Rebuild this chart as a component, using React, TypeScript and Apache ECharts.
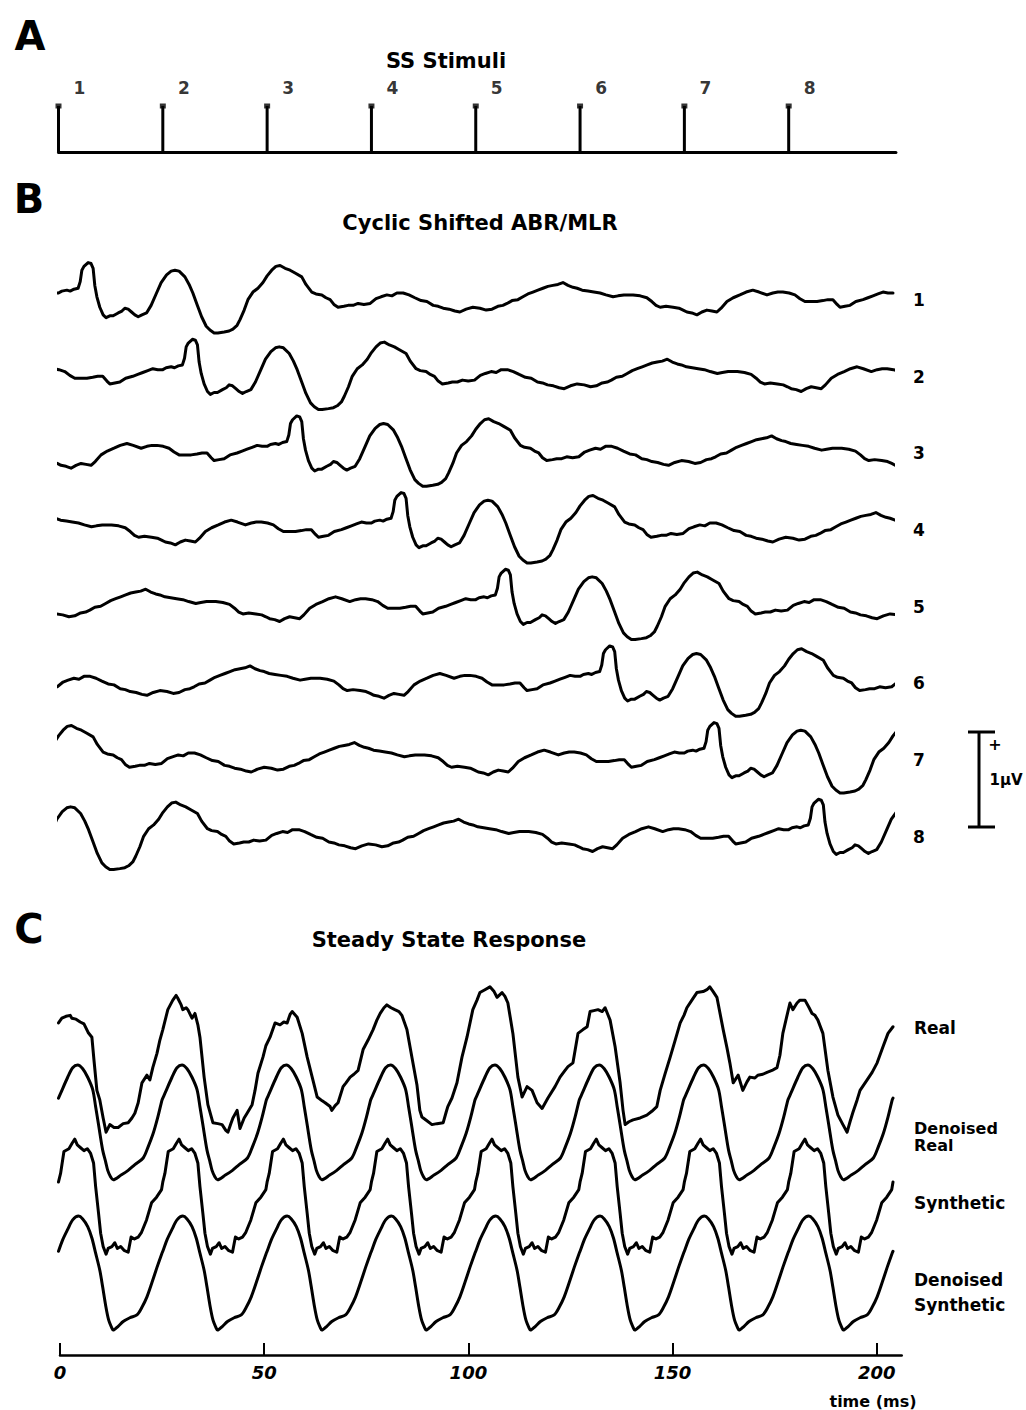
import React, { useEffect, useRef } from "react";
import * as echarts from "echarts";

// ---------- DATA ----------
// Panel A: stimulus onset times (ms) and their numbers
const stimulusTimes = [0, 25, 50, 75, 100, 125, 150, 175];
const stimulusLabels = ["1", "2", "3", "4", "5", "6", "7", "8"];

// Panel B: deconvolved ABR/MLR transient response (trace 1), [time ms, amplitude µV]
const abrMlrResponse = [
  [0, 0.0], [0.8, 0.02], [2.0, 0.03], [2.8, 0.02], [3.7, 0.04], [4.7, 0.05], [5.2, 0.12], [5.6, 0.24],
  [6.1, 0.28], [7.1, 0.32], [7.8, 0.31], [8.3, 0.26], [8.7, 0.08], [9.2, -0.04], [9.9, -0.15], [10.7, -0.23],
  [11.4, -0.26], [12.3, -0.24], [13.1, -0.24], [14.3, -0.21], [15.2, -0.19], [15.9, -0.16], [16.7, -0.17],
  [17.5, -0.2], [18.3, -0.23], [19.1, -0.25], [20.0, -0.23], [21.1, -0.21], [22.2, -0.13], [23.5, 0.0],
  [24.6, 0.11], [25.9, 0.19], [27.0, 0.23], [27.9, 0.24], [28.9, 0.23], [30.3, 0.17], [31.3, 0.09],
  [32.2, 0.0], [33.2, -0.12], [34.3, -0.25], [35.4, -0.35], [36.3, -0.39], [37.3, -0.42], [38.2, -0.42],
  [39.7, -0.41], [40.9, -0.4], [41.8, -0.38], [42.8, -0.34], [43.5, -0.28], [44.5, -0.18], [45.4, -0.07],
  [46.6, 0.01], [47.8, 0.05], [49.0, 0.11], [50.0, 0.18], [51.1, 0.24], [52.1, 0.28], [53.1, 0.29],
  [54.3, 0.26], [55.5, 0.24], [56.7, 0.21], [58.3, 0.17], [59.3, 0.09], [60.7, 0.01], [61.7, -0.01],
  [63.1, -0.02], [64.1, -0.05], [65.1, -0.07], [66.0, -0.12], [67.0, -0.15], [68.4, -0.14], [69.4, -0.13],
  [70.6, -0.13], [71.8, -0.11], [73.2, -0.12], [74.7, -0.11], [76.1, -0.06], [77.3, -0.04], [78.7, -0.02],
  [79.9, -0.03], [81.1, 0.0], [82.6, 0.0], [84.0, -0.02], [85.4, -0.05], [86.9, -0.08], [88.3, -0.09],
  [89.8, -0.13], [91.0, -0.14], [92.2, -0.16], [93.6, -0.17], [95.0, -0.19], [96.2, -0.2], [97.7, -0.17],
  [99.3, -0.15], [101.0, -0.16], [102.5, -0.18], [103.9, -0.17], [105.3, -0.14], [106.5, -0.13],
  [107.5, -0.11], [108.7, -0.08], [110.1, -0.07], [111.3, -0.04], [112.5, -0.01], [113.7, 0.01],
  [114.9, 0.03], [116.1, 0.05], [117.3, 0.07], [118.5, 0.08], [119.7, 0.09], [120.9, 0.11], [122.1, 0.08],
  [123.3, 0.06], [124.3, 0.05], [125.5, 0.03], [126.9, 0.02], [128.3, 0.01], [129.8, 0.0], [131.2, -0.02],
  [132.9, -0.04], [134.1, -0.03], [135.5, -0.02], [136.7, -0.02], [137.7, -0.02], [139.4, -0.03],
  [141.0, -0.05], [142.2, -0.09], [143.2, -0.13], [144.2, -0.15], [145.6, -0.14], [147.3, -0.15],
  [148.7, -0.16], [149.7, -0.18], [150.6, -0.2], [151.8, -0.21], [153.0, -0.23], [154.2, -0.2],
  [155.4, -0.18], [156.6, -0.19], [157.8, -0.2], [158.8, -0.16], [160.2, -0.09], [161.7, -0.05],
  [163.3, -0.02], [164.8, 0.01], [166.4, 0.03], [167.9, 0.01], [169.8, -0.02], [171.2, 0.0], [172.4, 0.01],
  [173.6, 0.01], [175.1, 0.0], [176.5, -0.02], [177.7, -0.06], [178.9, -0.09], [180.3, -0.09],
  [181.8, -0.09], [183.2, -0.08], [184.4, -0.07], [185.6, -0.07], [186.6, -0.12], [187.3, -0.15],
  [188.5, -0.14], [189.7, -0.13], [191.1, -0.09], [192.8, -0.07], [194.0, -0.05], [195.2, -0.03],
  [196.4, -0.01], [197.6, 0.01], [198.8, 0.0], [200, 0.0],
];
const cyclePeriod = 200; // ms
const shiftStep = 25; // ms between stimuli
const abrTraceLabels = ["1", "2", "3", "4", "5", "6", "7", "8"];

// Panel C: recorded steady state response, [time ms, amplitude]
const realResponse = [
  [0, 0.39], [0.8, 0.44], [1.8, 0.46], [2.8, 0.47], [3.2, 0.44], [4.2, 0.43], [5.2, 0.4], [6.1, 0.38],
  [7.1, 0.29], [8.0, 0.24], [8.5, 0.0], [9.2, -0.32], [9.9, -0.42], [10.7, -0.61], [11.4, -0.76],
  [12.3, -0.68], [13.3, -0.71], [14.3, -0.71], [15.5, -0.67], [16.7, -0.66], [17.6, -0.61], [18.3, -0.56],
  [19.1, -0.45], [20.0, -0.24], [21.2, -0.16], [21.9, -0.21], [22.6, -0.08], [23.6, 0.07], [24.3, 0.21],
  [25.0, 0.32], [26.2, 0.53], [27.4, 0.63], [28.2, 0.68], [28.6, 0.65], [29.4, 0.58], [29.8, 0.53],
  [30.6, 0.55], [31.0, 0.53], [32.0, 0.44], [32.7, 0.49], [33.4, 0.37], [33.9, 0.24], [34.9, -0.18],
  [35.8, -0.47], [37.0, -0.66], [38.2, -0.67], [39.2, -0.68], [40.1, -0.74], [40.6, -0.76], [41.3, -0.67],
  [41.8, -0.61], [42.8, -0.53], [43.5, -0.72], [44.5, -0.61], [45.2, -0.56], [46.4, -0.47], [47.1, -0.32],
  [47.8, -0.14], [49.0, 0.03], [49.7, 0.15], [50.7, 0.24], [51.9, 0.39], [53.1, 0.37], [54.0, 0.4],
  [54.8, 0.39], [55.5, 0.48], [56.0, 0.51], [57.2, 0.45], [58.4, 0.28], [59.6, 0.03], [60.8, -0.18],
  [62.0, -0.39], [63.2, -0.43], [63.9, -0.45], [65.1, -0.49], [65.5, -0.53], [66.3, -0.48], [67.0, -0.45],
  [68.2, -0.28], [68.9, -0.24], [69.9, -0.18], [70.8, -0.15], [71.8, -0.11], [73.0, 0.11], [74.2, 0.21],
  [75.4, 0.32], [76.3, 0.42], [77.1, 0.49], [78.0, 0.55], [78.7, 0.58], [79.7, 0.55], [80.6, 0.53],
  [81.6, 0.51], [82.3, 0.47], [83.5, 0.32], [84.7, 0.03], [85.9, -0.26], [86.6, -0.53], [87.1, -0.6],
  [88.3, -0.64], [89.5, -0.68], [90.7, -0.67], [92.2, -0.66], [92.9, -0.55], [93.3, -0.49], [94.3, -0.4],
  [95.5, -0.24], [96.7, 0.03], [97.9, 0.24], [99.3, 0.53], [100.3, 0.63], [101.0, 0.71], [102.2, 0.74],
  [103.4, 0.77], [104.4, 0.72], [105.1, 0.66], [106.3, 0.71], [107.0, 0.67], [107.7, 0.6], [108.9, 0.28],
  [110.1, -0.18], [111.1, -0.39], [112.3, -0.28], [113.5, -0.32], [114.7, -0.45], [115.9, -0.51],
  [117.3, -0.4], [119.0, -0.28], [120.2, -0.18], [121.4, -0.11], [122.1, -0.07], [123.3, -0.03],
  [124.5, 0.28], [125.7, 0.32], [126.7, 0.35], [127.4, 0.51], [128.3, 0.52], [129.3, 0.53], [130.3, 0.51],
  [131.0, 0.55], [132.2, 0.42], [133.4, 0.14], [134.6, -0.24], [135.3, -0.53], [135.8, -0.68],
  [136.7, -0.65], [137.7, -0.63], [139.4, -0.61], [141.0, -0.58], [142.2, -0.54], [143.4, -0.49],
  [144.2, -0.32], [145.4, -0.14], [146.6, 0.03], [147.8, 0.21], [149.0, 0.39], [149.9, 0.47], [150.6, 0.55],
  [151.8, 0.63], [153.0, 0.71], [154.5, 0.72], [155.4, 0.74], [156.1, 0.77], [156.9, 0.72], [157.8, 0.66],
  [159.3, 0.32], [160.2, 0.13], [160.9, -0.03], [161.7, -0.24], [162.9, -0.16], [164.0, -0.32],
  [165.0, -0.23], [165.7, -0.18], [166.9, -0.19], [167.6, -0.16], [168.8, -0.15], [169.8, -0.13],
  [171.0, -0.11], [172.2, -0.08], [172.9, 0.05], [173.6, 0.28], [174.6, 0.47], [175.3, 0.6], [176.0, 0.53],
  [177.0, 0.6], [177.7, 0.63], [178.9, 0.63], [179.9, 0.55], [180.6, 0.49], [181.3, 0.47], [182.0, 0.42],
  [183.2, 0.28], [184.4, -0.11], [185.6, -0.39], [186.8, -0.58], [188.0, -0.68], [189.0, -0.76],
  [189.7, -0.65], [190.4, -0.55], [191.4, -0.42], [192.1, -0.32], [193.8, -0.21], [195.0, -0.13],
  [196.2, -0.03], [197.6, 0.14], [198.8, 0.28], [200.0, 0.35],
];

// One 25 ms cycle of each periodic trace, [time in cycle ms, amplitude]
const denoisedRealCycle = [
  [0, 0.23], [0.5, 0.28], [2.2, 0.45], [3.4, 0.55], [4.6, 0.58], [5.8, 0.54], [7.0, 0.45], [8.2, 0.32],
  [8.9, 0.14], [9.6, -0.05], [10.6, -0.32], [11.3, -0.44], [11.8, -0.53], [12.5, -0.6], [13.1, -0.63],
  [15.0, -0.58], [16.7, -0.53], [18.3, -0.47], [20.3, -0.4], [21.5, -0.28], [22.7, -0.14], [23.8, 0.03],
  [24.8, 0.21],
];
const syntheticCycle = [
  [0, 0.19], [0.5, 0.28], [1.3, 0.51], [2.5, 0.54], [3.3, 0.6], [3.9, 0.64], [4.5, 0.58], [5.3, 0.55],
  [6.1, 0.52], [6.9, 0.54], [7.7, 0.49], [8.4, 0.39], [8.9, 0.14], [9.6, -0.14], [10.1, -0.35],
  [10.7, -0.49], [11.4, -0.57], [11.9, -0.51], [12.8, -0.49], [13.5, -0.45], [14.1, -0.51], [14.9, -0.49],
  [15.7, -0.53], [16.7, -0.55], [17.4, -0.39], [18.2, -0.41], [19.1, -0.39], [19.9, -0.34], [21.1, -0.21],
  [22.3, -0.03], [23.5, 0.03], [24.7, 0.11],
];
const denoisedSyntheticCycle = [
  [0, 0.25], [1.0, 0.37], [2.2, 0.48], [3.4, 0.58], [4.8, 0.62], [5.8, 0.59], [7.0, 0.51], [8.0, 0.39],
  [8.9, 0.23], [9.9, 0.05], [10.6, -0.13], [11.3, -0.32], [12.0, -0.47], [12.8, -0.56], [13.1, -0.58],
  [14.3, -0.54], [15.5, -0.49], [17.1, -0.45], [18.8, -0.42], [20.0, -0.34], [21.2, -0.23], [22.4, -0.08],
  [23.6, 0.08], [24.8, 0.23],
];
const steadyCycleLength = 25;
const steadyCycles = 8;
const steadyLabels = ["Real", "Denoised\nReal", "Synthetic", "Denoised\nSynthetic"];

const timeAxisTicks = { min: 0, interval: 50 };
const timeAxisName = "time (ms)";
const titles = ["SS Stimuli", "Cyclic Shifted ABR/MLR", "Steady State Response"];
const panelLetters = ["A", "B", "C"];

// ---------- LAYOUT ----------
const W = 1026;
const H = 1410;
const PX_PER_UV = 95;
const X_LEFT = 58.5;
const X_RIGHT = 893;
const FONT = '"DejaVu Sans", "Liberation Sans", Arial, sans-serif';
const LINE_W = 3;

const bZero = (k: number) => 293 + k * 76.667;
const cZeros = [1060, 1120, 1200, 1275];
const cHalf = [0.9, 0.8, 0.8, 0.8];

function cyclicShift(base: number[][], shift: number) {
  const pts: number[][] = [];
  for (const [t, v] of base) {
    pts.push([t + shift, v]);
    pts.push([t + shift - cyclePeriod, v]);
  }
  return pts.filter((p) => p[0] >= -4 && p[0] <= cyclePeriod + 4).sort((a, b) => a[0] - b[0]);
}

function repeatCycle(cycle: number[][]) {
  const out: number[][] = [];
  for (let c = 0; c < steadyCycles; c++) {
    for (const [t, v] of cycle) out.push([t + c * steadyCycleLength, v]);
  }
  out.push([steadyCycles * steadyCycleLength, cycle[0][1]]);
  return out;
}

function traceGrid(zeroY: number, half: number) {
  return {
    left: X_LEFT,
    width: X_RIGHT - X_LEFT,
    top: zeroY - half * PX_PER_UV,
    height: 2 * half * PX_PER_UV,
  };
}

function txt(text: string, x: number, y: number, size: number, align = "center", lineHeight?: number) {
  return {
    type: "text",
    x,
    y,
    silent: true,
    style: {
      text,
      fill: "#000",
      fontSize: size,
      fontWeight: "bold",
      fontFamily: FONT,
      lineHeight: lineHeight || Math.round(size * 1.2),
      textAlign: align,
      textVerticalAlign: "middle",
      align,
      verticalAlign: "middle",
    },
  };
}

function buildOption() {
  const grids: any[] = [];
  const xAxes: any[] = [];
  const yAxes: any[] = [];
  const series: any[] = [];

  const hiddenX = (gi: number) => ({ gridIndex: gi, type: "value", min: 0, max: cyclePeriod, show: false });
  const hiddenY = (gi: number, half: number) => ({ gridIndex: gi, type: "value", min: -half, max: half, show: false });

  // Grid 0: stimuli
  grids.push({ left: X_LEFT, width: (X_RIGHT - X_LEFT) * (200.7 / 200), top: 106, height: 46 });
  xAxes.push({
    gridIndex: 0,
    type: "value",
    min: 0,
    max: 200.7,
    axisLine: { show: true, onZero: false, lineStyle: { color: "#000", width: 3 } },
    axisTick: { show: false },
    axisLabel: { show: false },
    splitLine: { show: false },
  });
  yAxes.push({ gridIndex: 0, type: "value", min: 0, max: 1, show: false });
  series.push({
    type: "bar",
    xAxisIndex: 0,
    yAxisIndex: 0,
    barWidth: 3,
    itemStyle: { color: "#000" },
    data: stimulusTimes.map((t) => [t, 1]),
  });
  series.push({
    type: "scatter",
    xAxisIndex: 0,
    yAxisIndex: 0,
    symbol: "rect",
    symbolSize: [6, 5],
    itemStyle: { color: "#000" },
    label: {
      show: true,
      position: "top",
      offset: [21, -2],
      formatter: (p: any) => stimulusLabels[p.dataIndex],
      color: "#000",
      fontSize: 17,
      fontWeight: "bold",
      fontFamily: FONT,
    },
    data: stimulusTimes.map((t) => [t, 1]),
  });

  // Panel B traces
  for (let k = 0; k < 8; k++) {
    const gi = grids.length;
    grids.push(traceGrid(bZero(k), 0.6));
    xAxes.push(hiddenX(gi));
    yAxes.push(hiddenY(gi, 0.6));
    series.push({
      type: "line",
      name: "ABR/MLR " + abrTraceLabels[k],
      xAxisIndex: gi,
      yAxisIndex: gi,
      showSymbol: false,
      symbol: "none",
      clip: true,
      lineStyle: { color: "#000", width: LINE_W, join: "round", cap: "round" },
      data: cyclicShift(abrMlrResponse, k * shiftStep),
    });
  }

  // Panel C traces
  const cData = [
    realResponse,
    repeatCycle(denoisedRealCycle),
    repeatCycle(syntheticCycle),
    repeatCycle(denoisedSyntheticCycle),
  ];
  const cSmooth = [false, 0.3, false, 0.3];
  for (let k = 0; k < 4; k++) {
    const gi = grids.length;
    grids.push(traceGrid(cZeros[k], cHalf[k]));
    xAxes.push(hiddenX(gi));
    yAxes.push(hiddenY(gi, cHalf[k]));
    series.push({
      type: "line",
      name: steadyLabels[k].replace("\n", " "),
      xAxisIndex: gi,
      yAxisIndex: gi,
      showSymbol: false,
      symbol: "none",
      smooth: cSmooth[k],
      clip: true,
      lineStyle: { color: "#000", width: LINE_W, join: "round", cap: "round" },
      data: cData[k],
    });
  }

  // Time axis grid
  const ag = grids.length;
  grids.push({ left: 60, width: 841.7, top: 1300, height: 55 });
  xAxes.push({
    gridIndex: ag,
    type: "value",
    min: timeAxisTicks.min,
    max: 206.1,
    interval: timeAxisTicks.interval,
    axisLine: { show: true, onZero: false, lineStyle: { color: "#000", width: 2.5 } },
    axisTick: { show: true, inside: true, length: 12, lineStyle: { color: "#000", width: 2 } },
    axisLabel: {
      show: true,
      margin: 8,
      color: "#000",
      fontSize: 18,
      fontWeight: "bold",
      fontStyle: "italic",
      fontFamily: FONT,
    },
    splitLine: { show: false },
  });
  yAxes.push({ gridIndex: ag, type: "value", min: 0, max: 1, show: false });
  series.push({ type: "line", xAxisIndex: ag, yAxisIndex: ag, data: [], symbol: "none" });

  // Texts
  const graphic: any[] = [];
  graphic.push(txt(panelLetters[0], 30, 36, 40));
  graphic.push(txt(panelLetters[1], 29, 199, 40));
  graphic.push(txt(panelLetters[2], 29, 929, 40));
  graphic.push(txt(titles[0], 446, 61, 21));
  graphic.push(txt(titles[1], 480, 222.5, 21));
  graphic.push(txt(titles[2], 449, 940, 21));
  for (let k = 0; k < 8; k++) graphic.push(txt(abrTraceLabels[k], 919, bZero(k) + 7, 17));
  graphic.push(txt(steadyLabels[0], 914, 1028, 17, "left"));
  graphic.push(txt(steadyLabels[1], 914, 1136.5, 16, "left", 17));
  graphic.push(txt(steadyLabels[2], 914, 1203, 17, "left"));
  graphic.push(txt(steadyLabels[3], 914, 1292.5, 17, "left", 25));
  graphic.push(txt(timeAxisName, 873, 1401, 16));

  // 1 µV scale bar
  const barTop = 732;
  const barBottom = barTop + 1 * PX_PER_UV;
  const barX = 979;
  const lineStyle = { stroke: "#000", lineWidth: 3 };
  graphic.push({ type: "line", silent: true, shape: { x1: barX, y1: barTop, x2: barX, y2: barBottom }, style: lineStyle });
  graphic.push({ type: "line", silent: true, shape: { x1: barX - 11, y1: barTop, x2: barX + 16, y2: barTop }, style: lineStyle });
  graphic.push({ type: "line", silent: true, shape: { x1: barX - 11, y1: barBottom, x2: barX + 16, y2: barBottom }, style: lineStyle });
  graphic.push(txt("+", 995, 744, 16));
  graphic.push(txt("1\u03bcV", 1006, 780, 15));

  return {
    animation: false,
    backgroundColor: "#fff",
    grid: grids,
    xAxis: xAxes,
    yAxis: yAxes,
    series,
    graphic,
  };
}

export default function App() {
  const ref = useRef<HTMLDivElement>(null);
  useEffect(() => {
    if (!ref.current) return;
    const chart = echarts.init(ref.current, null, { renderer: "svg" });
    chart.setOption(buildOption() as any);
    return () => chart.dispose();
  }, []);
  return (
    <div
      ref={ref}
      style={{ position: "absolute", left: 0, top: 0, width: W, height: H, background: "#fff" }}
    />
  );
}
